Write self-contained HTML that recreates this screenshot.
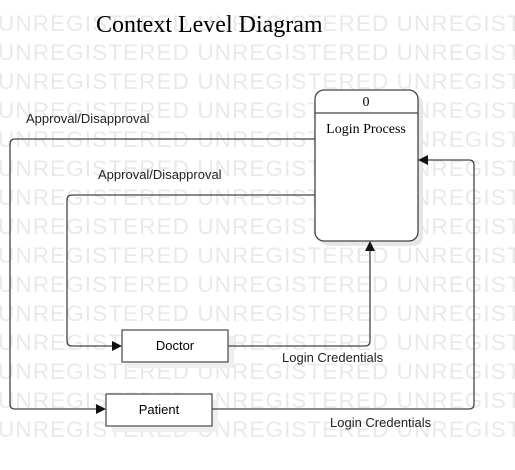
<!DOCTYPE html>
<html><head><meta charset="utf-8"><style>
html,body{margin:0;width:515px;height:470px;background:#fff;overflow:hidden;position:relative;font-family:"Liberation Sans",sans-serif}
#w{position:absolute;left:0;top:0;width:515px;height:470px;overflow:hidden}
.wm{position:absolute;left:-2px;font-size:22.5px;color:#e9e9e9;white-space:nowrap;letter-spacing:1.1px;line-height:1}
</style></head><body>
<div id="w"></div>
<script>
var h='';for(var i=0;i<15;i++){h+='<div class="wm" style="top:'+(13+i*29)+'px">UNREGISTERED UNREGISTERED UNREGISTERED</div>';}
document.getElementById('w').innerHTML=h;
</script>
<svg width="515" height="470" style="position:absolute;left:0;top:0" font-family="Liberation Sans, sans-serif">
<text x="96" y="32" font-family="Liberation Serif, serif" font-size="24">Context Level Diagram</text>
<rect x="320" y="95" width="103" height="151" rx="9" fill="#e6e6e6"/>
<rect x="315" y="90" width="103" height="151" rx="9" fill="#fff" stroke="#444" stroke-width="1.3"/>
<line x1="315" y1="113" x2="418" y2="113" stroke="#444" stroke-width="1.3"/>
<text x="366" y="106" font-family="Liberation Serif, serif" font-size="14" text-anchor="middle">0</text>
<text x="366" y="133" font-family="Liberation Serif, serif" font-size="14" text-anchor="middle">Login Process</text>
<rect x="128" y="336" width="106" height="32" fill="#efefef"/>
<rect x="122" y="330" width="106" height="32" fill="#fff" stroke="#555" stroke-width="1.3"/>
<text x="175" y="350" font-size="13" text-anchor="middle">Doctor</text>
<rect x="112" y="400" width="106" height="32" fill="#efefef"/>
<rect x="106" y="394" width="106" height="32" fill="#fff" stroke="#555" stroke-width="1.3"/>
<text x="159" y="414" font-size="13" text-anchor="middle">Patient</text>
<g fill="none" stroke="#444" stroke-width="1.3">
<path d="M315 139 H15 Q10 139 10 144 V404 Q10 409 15 409 H98"/>
<path d="M315 195 H72 Q67 195 67 200 V341 Q67 346 72 346 H114"/>
<path d="M228 346 H365 Q370 346 370 341 V249"/>
<path d="M212 409 H469 Q474 409 474 404 V165 Q474 160 469 160 H426"/>
</g>
<g fill="#111">
<path d="M106 409 L96 404 L96 414Z"/>
<path d="M122 346 L112 341 L112 351Z"/>
<path d="M370 241 L365 251 L375 251Z"/>
<path d="M418 160 L428 155 L428 165Z"/>
</g>
<g font-size="13" fill="#222">
<text x="26" y="123">Approval/Disapproval</text>
<text x="98" y="179">Approval/Disapproval</text>
<text x="282" y="362">Login Credentials</text>
<text x="330" y="427">Login Credentials</text>
</g>
</svg>
</body></html>
